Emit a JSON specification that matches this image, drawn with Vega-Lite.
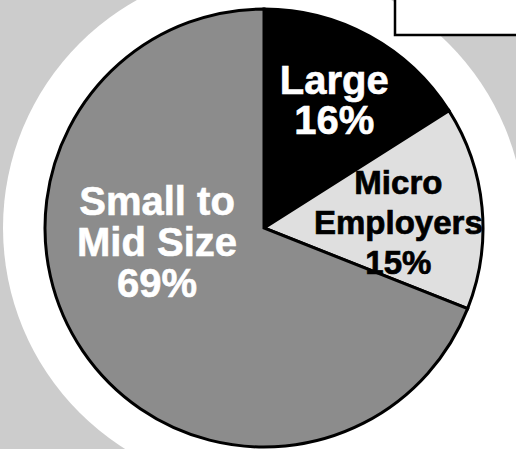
{
  "$schema": "https://vega.github.io/schema/vega-lite/v6.json",
  "width": 504,
  "height": 442,
  "autosize": "none",
  "padding": {"left": 12, "top": 7, "right": 0, "bottom": 0},
  "background": "#cccccc",
  "config": {
    "view": {"stroke": null},
    "legend": {"strokeColor": "black", "fillColor": "white", "strokeWidth": 2.5, "cornerRadius": 0, "padding": 40}
  },
  "data": {"values": [
    {"cat": "Large", "value": 16, "label": "Large\n16%"},
    {"cat": "Micro Employers", "value": 15, "label": "Micro\nEmployers\n15%"},
    {"cat": "Small to Mid Size", "value": 69, "label": "Small to\nMid Size\n69%"}
  ]},
  "layer": [
    {
      "data": {"values": [{"part": "backdrop corner"}]},
      "mark": {"type": "arc", "theta": 1.5708, "theta2": 3.1416, "radius": 420, "fill": "white"}
    },
    {
      "data": {"values": [{"part": "backdrop disc"}]},
      "mark": {"type": "arc", "theta": 0, "theta2": 6.2832, "radius": 261, "fill": "white"}
    },
    {
      "mark": {"type": "arc", "radius": 219, "stroke": "black", "strokeWidth": 3},
      "encoding": {
        "theta": {"field": "value", "type": "quantitative", "stack": true},
        "order": {"field": "cat", "sort": "ascending"},
        "color": {
          "field": "cat", "type": "nominal",
          "scale": {"domain": ["Large", "Micro Employers", "Small to Mid Size"], "range": ["#000000", "#dfdfdf", "#8c8c8c"]},
          "legend": {
            "orient": "none", "legendX": 383, "legendY": -66, "title": null,
            "direction": "horizontal",
            "labelFont": "Liberation Sans", "labelFontSize": 12, "labelColor": "black"
          }
        }
      }
    },
    {
      "mark": {"type": "text", "radius": 148, "dx": -1, "dy": -16, "font": "Liberation Sans", "fontWeight": "bold", "fontSize": 40, "lineHeight": 40, "lineBreak": "\n", "align": "center", "baseline": "middle", "fill": "white", "stroke": "white", "strokeWidth": 0.6},
      "encoding": {
        "theta": {"field": "value", "type": "quantitative", "stack": true},
        "order": {"field": "cat", "sort": "ascending"},
        "text": {"condition": {"test": "datum.cat === 'Large'", "field": "label"}, "value": ""}
      }
    },
    {
      "mark": {"type": "text", "radius": 141, "dx": -6, "dy": -31, "font": "Liberation Sans", "fontWeight": "bold", "fontSize": 33, "lineHeight": 40, "lineBreak": "\n", "align": "center", "baseline": "middle", "fill": "black", "stroke": "black", "strokeWidth": 0.7},
      "encoding": {
        "theta": {"field": "value", "type": "quantitative", "stack": true},
        "order": {"field": "cat", "sort": "ascending"},
        "text": {"condition": {"test": "datum.cat === 'Micro Employers'", "field": "label"}, "value": ""}
      }
    },
    {
      "mark": {"type": "text", "radius": 110, "dx": -16, "dy": -87, "font": "Liberation Sans", "fontWeight": "bold", "fontSize": 40, "lineHeight": 41, "lineBreak": "\n", "align": "center", "baseline": "middle", "fill": "white", "stroke": "white", "strokeWidth": 0.6},
      "encoding": {
        "theta": {"field": "value", "type": "quantitative", "stack": true},
        "order": {"field": "cat", "sort": "ascending"},
        "text": {"condition": {"test": "datum.cat === 'Small to Mid Size'", "field": "label"}, "value": ""}
      }
    }
  ]
}
